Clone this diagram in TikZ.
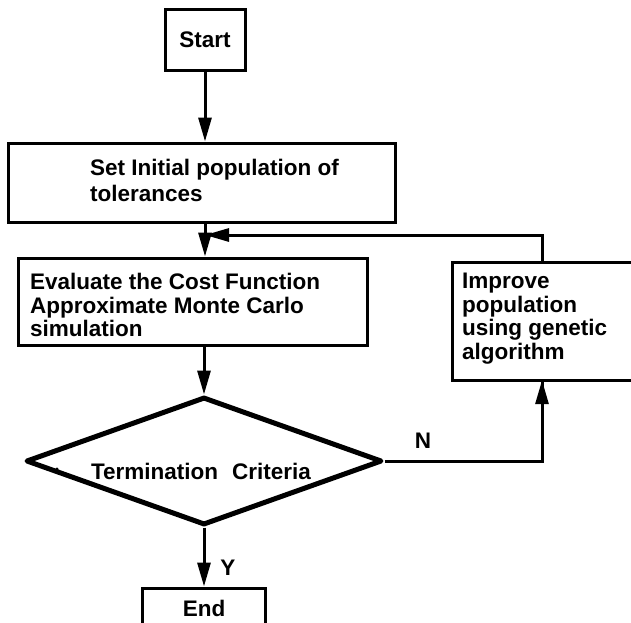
\documentclass[tikz,border=0pt]{standalone}
\usepackage{fontspec}
\setmainfont{Liberation Sans}
\usetikzlibrary{arrows.meta,shapes.geometric}
\begin{document}
\begin{tikzpicture}[x=1pt,y=-1pt,
  box/.style={draw, line width=3pt, rectangle, inner sep=0pt},
  lbl/.style={font=\fontsize{22.5}{23.5}\selectfont\bfseries, align=left, inner sep=0pt},
  conn/.style={line width=3pt, -{Triangle[length=24pt,width=13pt]}},
  plain/.style={line width=3pt},
  ]
\useasboundingbox[fill=white] (0,0) rectangle (631,622);
% Start
\node[box, lbl, minimum width=80pt, minimum height=61pt] (start) at (205,40) {Start};
% Set initial population
\node[box, minimum width=387pt, minimum height=79pt] (set) at (201.5,182.5) {};
\node[lbl, anchor=west, font=\fontsize{22.5}{26}\selectfont\bfseries] (settxt) at (90,180) {Set Initial population of\\tolerances};
% Evaluate
\node[box, minimum width=349pt, minimum height=87pt] (eval) at (192.5,301.5) {};
\node[lbl, anchor=west] (evaltxt) at (30,305) {Evaluate the Cost Function\\Approximate Monte Carlo\\simulation};
% Improve (cut off at right edge)
\node[minimum width=178pt, minimum height=117pt, inner sep=0pt] (imp) at (542,321.5) {};
\draw[line width=3pt] (imp.north east) -- (imp.north west) -- (imp.south west) -- (imp.south east);
\node[lbl, anchor=west] (imptxt) at (462,318.5) {Improve\\population\\using genetic\\algorithm};
% Decision
\node[diamond, draw, line width=5pt, line join=round, minimum width=356pt, minimum height=128pt, inner sep=0pt] (term) at (204,461) {};
\node[lbl] (termtxt) at (201,471) {Termination\hspace{14pt}Criteria};
\node[circle, fill, inner sep=0pt, minimum size=3.5pt] (dot) at (57,469) {};
% End
\node[box, lbl, minimum width=123pt, minimum height=40pt] (end) at (204,608) {End};
% Connectors
\coordinate (join) at (205,235);
\draw[conn] (start.south) -- (start.south |- set.north);
\draw[conn] (start.south |- set.south) -- (start.south |- eval.north);
\draw[conn] (imp.north) |- (join);
\draw[conn] (term.north |- eval.south) -- (term.north);
\draw[plain] (term.east) -| (imp.south);
\draw[conn] (imp.south |- term.east) ++(0,-0.01) -- (imp.south);
\draw[conn] (term.south) -- (end.north);
\node[lbl] (nlab) at (423,441) {N};
\node[lbl] (ylab) at (228,568) {Y};
\end{tikzpicture}
\end{document}
